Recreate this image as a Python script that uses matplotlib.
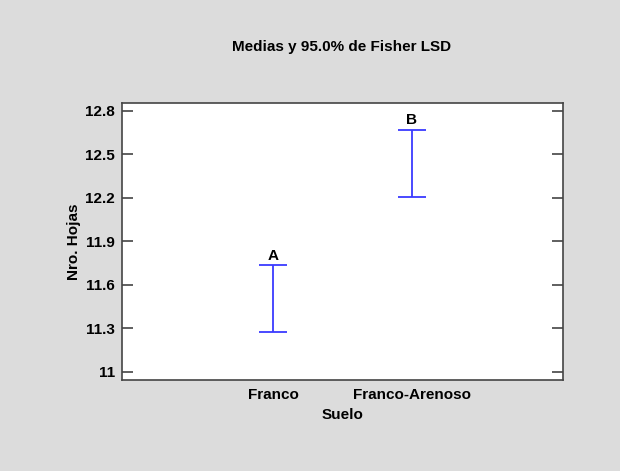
import matplotlib
matplotlib.use('Agg')
import matplotlib.pyplot as plt
import numpy as np

categories = ['Franco', 'Franco-Arenoso']
lower = np.array([11.276, 12.208])
upper = np.array([11.739, 12.671])
groups = ['A', 'B']
yticks = [11, 11.3, 11.6, 11.9, 12.2, 12.5, 12.8]

plt.rcParams['font.family'] = ['Liberation Sans', 'DejaVu Sans']
plt.rcParams['font.weight'] = 'bold'

means = (lower + upper) / 2
half = (upper - lower) / 2
x = np.arange(1, len(categories) + 1)

fig = plt.figure(figsize=(6.2, 4.71), dpi=100, facecolor='#dcdcdc')
ax = fig.add_axes([121.7/620, 1 - 380/471, (563-121.7)/620, (380-102.7)/471])
ax.set_facecolor('white')

ax.errorbar(x, means, yerr=half, fmt='none', ecolor='#3a3aff', elinewidth=1.3,
            capsize=10, capthick=1.3)
for xi, top, g in zip(x, upper, groups):
    ax.text(xi, top + 0.015, g, ha='center', va='bottom', fontsize=11, fontweight='bold')

ax.set_xlim(-0.09, 3.09)
ax.set_ylim(10.943, 12.857)
ax.set_xticks(x)
ax.set_xticklabels(categories, fontsize=11, fontweight='bold')
ax.tick_params(axis='x', length=0, pad=6)
ax.set_yticks(yticks)
ax.set_yticklabels(['11', '11.3', '11.6', '11.9', '12.2', '12.5', '12.8'], fontsize=11, fontweight='bold')
ax.tick_params(axis='y', direction='in', length=8, width=1.2, color='#444444', right=True, pad=5)
for s in ax.spines.values():
    s.set_color('#444444')
    s.set_linewidth(1.2)

ax.set_xlabel('Suelo', fontsize=11, fontweight='bold', labelpad=4)
ax.set_ylabel('Nro. Hojas', fontsize=11, fontweight='bold', labelpad=3)
fig.text(342/620, 1 - 47/471, 'Medias y 95.0% de Fisher LSD', ha='center', va='center',
         fontsize=11, fontweight='bold')

plt.savefig('out.png', dpi=100, facecolor=fig.get_facecolor())
